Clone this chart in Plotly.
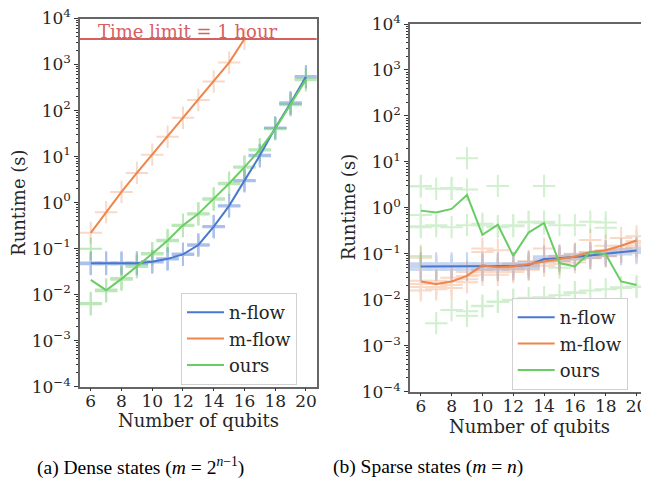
import math
import plotly.graph_objects as go

# ---------------- data ----------------
qubits = list(range(6, 21))
qubits_mflow_dense = list(range(6, 17))

# Dense states (m = 2^(n-1)) : mean runtime lines
dense_nflow_mean = [0.048, 0.048, 0.048, 0.048, 0.052, 0.060, 0.075, 0.12, 0.30, 0.85, 3.0, 10.5, 42, 145, 540]
dense_mflow_mean = [0.22, 0.62, 1.7, 4.4, 11, 27, 70, 170, 430, 1100, 3600]
dense_ours_mean = [0.021, 0.0125, 0.022, 0.041, 0.077, 0.15, 0.32, 0.57, 1.2, 2.6, 5.9, 14, 40, 135, 470]

# Dense states : individual runs
dense_nflow_runs = [
    [0.046, 0.048, 0.050], [0.046, 0.048, 0.050], [0.046, 0.048, 0.050], [0.046, 0.048, 0.050],
    [0.050, 0.052, 0.054], [0.058, 0.060, 0.062], [0.073, 0.075, 0.078], [0.116, 0.12, 0.124],
    [0.29, 0.30, 0.31], [0.82, 0.85, 0.88], [2.9, 3.0, 3.1], [10.2, 10.5, 10.9],
    [41, 42, 43], [138, 145, 152], [525, 540, 560],
]
dense_mflow_runs = [[v] for v in dense_mflow_mean]
dense_ours_runs = [
    [0.0062, 0.0066, 0.10], [0.0118, 0.0125, 0.013], [0.021, 0.022, 0.023], [0.040, 0.041, 0.043],
    [0.075, 0.077, 0.080], [0.145, 0.15, 0.155], [0.31, 0.32, 0.33], [0.55, 0.57, 0.59],
    [1.15, 1.2, 1.25], [2.5, 2.6, 2.7], [5.7, 5.9, 6.1], [13.5, 14, 14.5],
    [39, 40, 41], [130, 135, 140], [455, 470, 485],
]

# Sparse states (m = n) : mean runtime lines
sparse_nflow_mean = [0.053, 0.053, 0.053, 0.053, 0.053, 0.053, 0.054, 0.057, 0.077, 0.080, 0.085, 0.092, 0.10, 0.11, 0.118]
sparse_mflow_mean = [0.025, 0.022, 0.025, 0.033, 0.056, 0.051, 0.053, 0.060, 0.070, 0.077, 0.087, 0.11, 0.12, 0.15, 0.195]
sparse_ours_mean = [0.87, 0.79, 0.95, 1.9, 0.26, 0.43, 0.09, 0.29, 0.47, 0.063, 0.053, 0.109, 0.098, 0.025, 0.021]

# Sparse states : individual runs
sparse_nflow_runs = [
    [0.045, 0.050, 0.053, 0.057, 0.062], [0.045, 0.050, 0.053, 0.057, 0.062],
    [0.045, 0.050, 0.053, 0.057, 0.062], [0.045, 0.050, 0.053, 0.057, 0.062],
    [0.045, 0.050, 0.053, 0.057, 0.062], [0.045, 0.050, 0.053, 0.057, 0.062],
    [0.046, 0.051, 0.054, 0.058, 0.063], [0.048, 0.053, 0.057, 0.061, 0.066],
    [0.068, 0.073, 0.077, 0.082, 0.088], [0.070, 0.076, 0.080, 0.085, 0.091],
    [0.075, 0.081, 0.085, 0.090, 0.097], [0.081, 0.087, 0.092, 0.098, 0.105],
    [0.088, 0.095, 0.100, 0.106, 0.114], [0.097, 0.104, 0.110, 0.117, 0.126],
    [0.104, 0.112, 0.118, 0.125, 0.134],
]
sparse_mflow_runs = [
    [0.016, 0.019, 0.022, 0.026, 0.082], [0.017, 0.019, 0.022, 0.026],
    [0.018, 0.021, 0.025, 0.030], [0.024, 0.028, 0.033, 0.040],
    [0.035, 0.040, 0.045, 0.13, 0.11], [0.035, 0.040, 0.046, 0.12],
    [0.040, 0.045, 0.050, 0.060], [0.045, 0.052, 0.058, 0.070],
    [0.055, 0.062, 0.070, 0.13], [0.060, 0.068, 0.078, 0.090],
    [0.065, 0.075, 0.085, 0.100], [0.080, 0.095, 0.110, 0.20],
    [0.090, 0.105, 0.120, 0.15], [0.110, 0.130, 0.150, 0.22],
    [0.150, 0.170, 0.190, 0.24],
]
sparse_ours_runs = [
    [3.0, 2.9, 0.7, 0.4, 0.38, 0.09], [2.6, 0.42, 0.40, 0.0031],
    [2.7, 2.6, 0.38, 0.006], [12, 2.5, 0.42, 0.0056, 0.0045],
    [0.45, 0.42, 0.0074, 0.0072], [3.0, 0.40, 0.38, 0.0092, 0.009],
    [0.42, 0.40, 0.010, 0.0098], [0.50, 0.48, 0.011],
    [3.0, 0.50, 0.46, 0.0114], [0.42, 0.05, 0.0125],
    [0.42, 0.0146, 0.014], [0.50, 0.016],
    [0.48, 0.37, 0.017], [0.0187, 0.018], [0.0194, 0.019],
]

time_limit = 3600
y_tick_exponents = [-4, -3, -2, -1, 0, 1, 2, 3, 4]
x_ticks = [6, 8, 10, 12, 14, 16, 18, 20]

# ---------------- style ----------------
BLUE, ORANGE, GREEN, RED = "#4878D0", "#EE854A", "#6ACC64", "#D65F5F"
FONT = "DejaVu Serif"
TXT = "#262626"
SPINE = "#666666"
# the page places the figure 8px from the window's top-left corner
OFF = 8
W, H = 649 - OFF, 478 - OFF


def fx(p):  # window pixel -> paper x
    return (p - OFF) / W


def fy(p):  # window pixel -> paper y
    return 1 - (p - OFF) / H


fig = go.Figure()


def add_runs(xs, runs, color, xa, ya, op):
    px, py = [], []
    for x, vals in zip(xs, runs):
        for v in vals:
            px.append(x)
            py.append(v)
    fig.add_trace(go.Scatter(
        x=px, y=py, mode="markers", xaxis=xa, yaxis=ya, showlegend=False,
        opacity=op, hoverinfo="skip",
        marker=dict(symbol="cross-thin", size=16, color=color,
                    line=dict(color=color, width=2))))


def add_line(xs, ys, color, name, xa, ya, lg):
    fig.add_trace(go.Scatter(
        x=xs, y=ys, mode="lines", name=name, xaxis=xa, yaxis=ya,
        showlegend=True, legend=lg, line=dict(color=color, width=2)))


# left panel (dense)
add_runs(qubits, dense_nflow_runs, BLUE, "x", "y", 0.45)
add_runs(qubits_mflow_dense, dense_mflow_runs, ORANGE, "x", "y", 0.3)
add_runs(qubits, dense_ours_runs, GREEN, "x", "y", 0.45)
add_line(qubits, dense_nflow_mean, BLUE, "n-flow", "x", "y", "legend")
add_line(qubits_mflow_dense, dense_mflow_mean, ORANGE, "m-flow", "x", "y", "legend")
add_line(qubits, dense_ours_mean, GREEN, "ours", "x", "y", "legend")

# right panel (sparse)
add_runs(qubits, sparse_nflow_runs, BLUE, "x2", "y2", 0.3)
add_runs(qubits, sparse_mflow_runs, ORANGE, "x2", "y2", 0.3)
add_runs(qubits, sparse_ours_runs, GREEN, "x2", "y2", 0.3)
add_line(qubits, sparse_nflow_mean, BLUE, "n-flow", "x2", "y2", "legend2")
add_line(qubits, sparse_mflow_mean, ORANGE, "m-flow", "x2", "y2", "legend2")
add_line(qubits, sparse_ours_mean, GREEN, "ours", "x2", "y2", "legend2")

minor_vals = [m * 10 ** k for k in range(-4, 4) for m in range(2, 10)]


def yaxis_style(domain, anchor):
    return dict(
        type="log", range=[-4, 4], domain=domain, anchor=anchor, automargin=False,
        tickvals=[10 ** e for e in y_tick_exponents],
        ticktext=["10<sup>%s</sup>" % (str(e).replace("-", "−")) for e in y_tick_exponents],
        ticks="outside", ticklen=4, tickwidth=1, tickcolor="#333",
        ticklabeloverflow="allow",
        minor=dict(tickvals=minor_vals, ticks="outside", ticklen=2, tickcolor="#333", showgrid=False),
        showgrid=False, zeroline=False, showline=True, mirror=True,
        linecolor=SPINE, linewidth=1.5,
        tickfont=dict(family=FONT, size=17, color=TXT))


def xaxis_style(domain, anchor):
    return dict(
        range=[5.3, 20.7], domain=domain, anchor=anchor, automargin=False,
        tickvals=x_ticks, ticks="outside", ticklen=3, tickwidth=1, tickcolor="#333",
        ticklabeloverflow="allow", ticklabelstandoff=-5,
        showgrid=False, zeroline=False, showline=True, mirror=True,
        linecolor=SPINE, linewidth=1.5,
        tickfont=dict(family=FONT, size=17, color=TXT))


def legend_style(x, y):
    return dict(x=x, y=y, xanchor="left", yanchor="top", xref="paper", yref="paper",
                bgcolor="rgba(255,255,255,0.85)", bordercolor="#d0d0d0", borderwidth=1,
                itemwidth=37,
                font=dict(family=FONT, size=18, color=TXT), tracegroupgap=0)


fig.update_layout(
    width=W, height=H, margin=dict(l=0, r=0, t=0, b=0, autoexpand=False),
    paper_bgcolor="white", plot_bgcolor="white",
    font=dict(family=FONT, color=TXT),
    xaxis=xaxis_style([fx(80), fx(316.7)], "y"),
    yaxis=yaxis_style([fy(386.7), fy(18.5)], "x"),
    xaxis2=xaxis_style([fx(410), fx(647.3)], "y2"),
    yaxis2=yaxis_style([fy(391.7), fy(24)], "x2"),
    legend=legend_style(fx(181), fy(293)),
    legend2=legend_style(fx(511.7), fy(298)),
    shapes=[dict(type="line", xref="x domain", x0=0, x1=1, yref="y",
                 y0=time_limit, y1=time_limit,
                 line=dict(color=RED, width=2), layer="above")],
)

ann = []
ann.append(dict(x=fx(187.5), y=fy(31.5), xref="paper", yref="paper", xanchor="center",
                yanchor="middle", text="Time limit = 1 hour", showarrow=False,
                font=dict(family=FONT, size=18, color=RED)))
for xc, yc in [(18.3, 202.6), (348.5, 207.8)]:
    ann.append(dict(x=fx(xc), y=fy(yc), xref="paper", yref="paper", text="Runtime (s)",
                    textangle=-90, showarrow=False, xanchor="center", yanchor="middle",
                    font=dict(family=FONT, size=18, color=TXT)))
for xc, yc in [(198.3, 420), (529, 426.7)]:
    ann.append(dict(x=fx(xc), y=fy(yc), xref="paper", yref="paper", text="Number of qubits",
                    showarrow=False, xanchor="center", yanchor="middle",
                    font=dict(family=FONT, size=18, color=TXT)))
ann.append(dict(x=fx(140.5), y=fy(466.7), xref="paper", yref="paper",
                text="(a) Dense states (<i>m</i> = 2<sup><i>n</i>−1</sup>)", showarrow=False,
                xanchor="center", yanchor="middle",
                font=dict(family="Liberation Serif", size=19.5, color="black")))
ann.append(dict(x=fx(428), y=fy(466.7), xref="paper", yref="paper",
                text="(b) Sparse states (<i>m</i> = <i>n</i>)", showarrow=False,
                xanchor="center", yanchor="middle",
                font=dict(family="Liberation Serif", size=19.5, color="black")))
fig.update_layout(annotations=ann)

fig.write_html("out.html")
